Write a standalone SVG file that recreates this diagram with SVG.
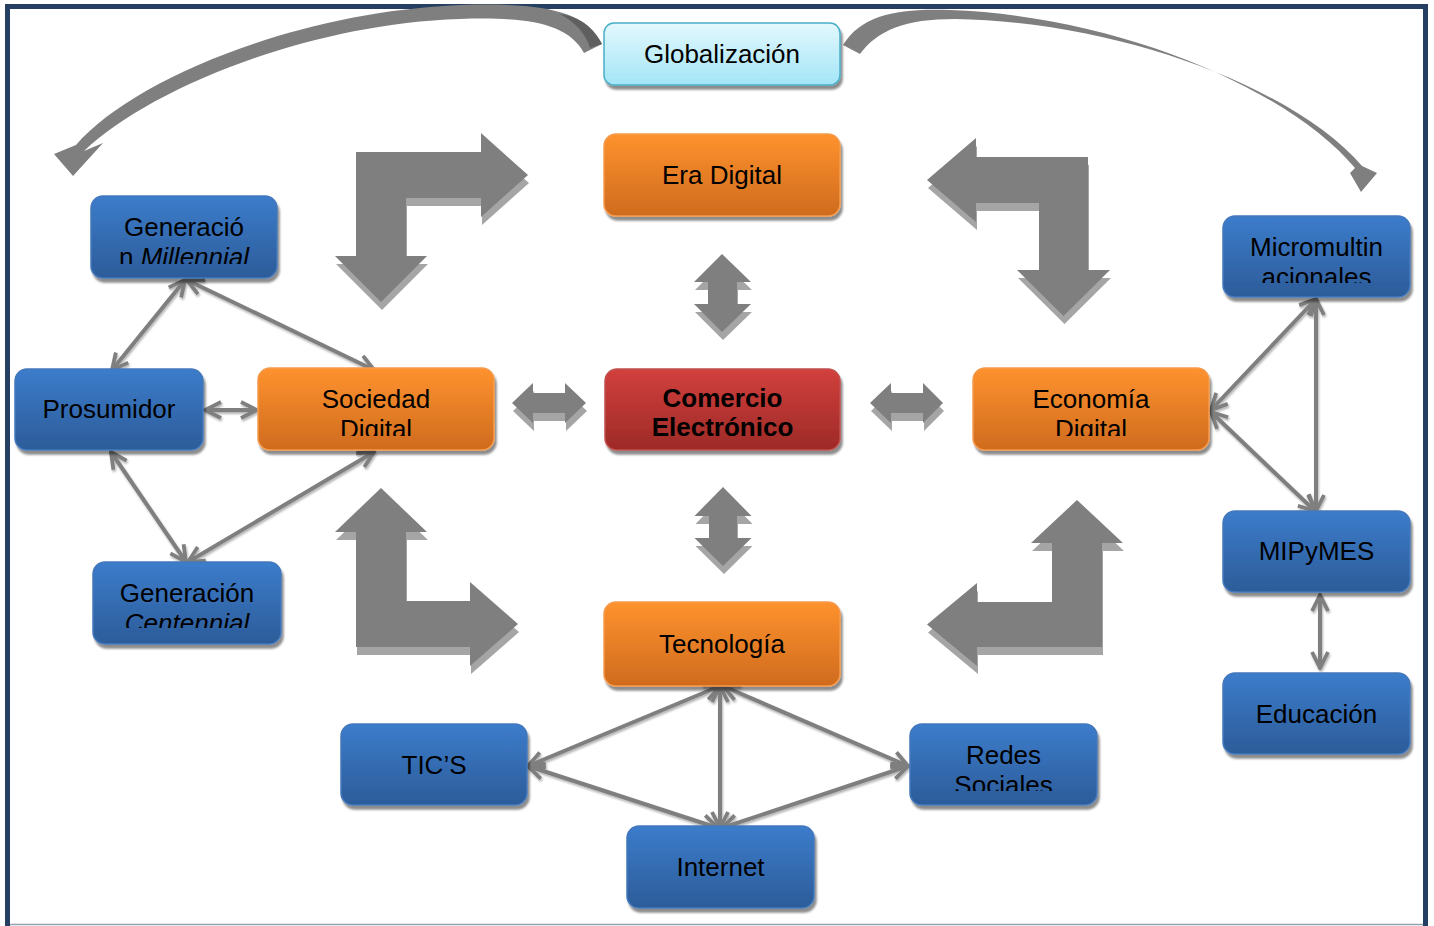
<svg xmlns="http://www.w3.org/2000/svg" width="1434" height="926" viewBox="0 0 1434 926">
<defs>
<linearGradient id="gBlue" x1="0" y1="0" x2="0" y2="1"><stop offset="0" stop-color="#3c7ccb"/><stop offset="1" stop-color="#2c5c99"/></linearGradient>
<linearGradient id="gOrange" x1="0" y1="0" x2="0" y2="1"><stop offset="0" stop-color="#fe922e"/><stop offset="1" stop-color="#cf6b1e"/></linearGradient>
<linearGradient id="gRed" x1="0" y1="0" x2="0" y2="1"><stop offset="0" stop-color="#d2403d"/><stop offset="1" stop-color="#9d2a27"/></linearGradient>
<linearGradient id="gCyan" x1="0" y1="0" x2="0" y2="1"><stop offset="0" stop-color="#e3f8fd"/><stop offset="1" stop-color="#a3e5f7"/></linearGradient>
<filter id="sh" x="-10%" y="-10%" width="130%" height="140%"><feDropShadow dx="2" dy="4" stdDeviation="1.2" flood-color="#000" flood-opacity="0.45"/></filter>
<filter id="lsh" x="-10%" y="-10%" width="130%" height="130%"><feDropShadow dx="1" dy="2" stdDeviation="0.8" flood-color="#000" flood-opacity="0.3"/></filter>
<marker id="oa" viewBox="0 0 22 22" refX="20" refY="11" markerWidth="22" markerHeight="22" markerUnits="userSpaceOnUse" orient="auto-start-reverse">
<path d="M4,3 L20,11 L4,19" fill="none" stroke="#7f7f7f" stroke-width="3.8"/>
</marker>
<clipPath id="cMil"><rect x="91" y="196" width="186" height="68"/></clipPath>
<clipPath id="cCen"><rect x="93" y="562" width="188" height="66"/></clipPath>
<clipPath id="cSoc"><rect x="258" y="368" width="236" height="68"/></clipPath>
<clipPath id="cEco"><rect x="973" y="368" width="236" height="68"/></clipPath>
<clipPath id="cMic"><rect x="1223" y="216" width="187" height="67"/></clipPath>
<clipPath id="cRed"><rect x="910" y="724" width="187" height="67"/></clipPath>
</defs>
<style>
.t{font-family:"Liberation Sans",Arial,sans-serif;font-size:26px;fill:#000;text-anchor:middle}
.b{font-weight:bold}
.i{font-style:italic}
.blue{fill:url(#gBlue);stroke:#4478bb;stroke-width:1.5;filter:url(#sh)}
.orange{fill:url(#gOrange);stroke:#f59a4c;stroke-width:1.5;filter:url(#sh)}
.red{fill:url(#gRed);stroke:#c0504d;stroke-width:1.5;filter:url(#sh)}
.cyan{fill:url(#gCyan);stroke:#4aaec8;stroke-width:1.5;filter:url(#sh)}
.big{fill:#7f7f7f}
.bigs{fill:#a5a5a5}
.con{fill:none;stroke:#7f7f7f;stroke-width:4;marker-start:url(#oa);marker-end:url(#oa)}
</style>
<rect width="1434" height="926" fill="#fff"/>
<!-- frame -->
<path d="M7.5,926 V6.5 H1425.5 V926" fill="none" stroke="#253f62" stroke-width="5"/>
<line x1="10" y1="924.5" x2="1423" y2="924.5" stroke="#95a3b0" stroke-width="1.5"/>

<!-- big arrows -->
<g id="bigArrows">
<g transform="translate(1,8)">
<polygon class="bigs" points="356,152 481,152 481,133 528,175 481,217 481,198 406,198 406,256 427,256 381,302 335,256 356,256"/>
<polygon class="bigs" points="1088,157 976,157 976,138 927,180 976,222 976,203 1039,203 1039,270 1017,270 1063.5,316 1110,270 1088,270"/>
<polygon class="bigs" points="381,488 427,532 406,532 406,601 470,601 470,582 518,624 470,666 470,647 356,647 356,532 335,532"/>
<polygon class="bigs" points="1077,500 1123,543 1102,543 1102,647 977,647 977,666 927,624.5 977,583 977,602 1052,602 1052,543 1031,543"/>
<polygon class="bigs" points="722,254 751,282 737,282 737,304 751,304 722,332 694,304 708,304 708,282 694,282"/>
<polygon class="bigs" points="723,487 751.5,516 737,516 737,538 751.5,538 723,566 694.5,538 709,538 709,516 694.5,516"/>
<polygon class="bigs" points="512,403 533,383 533,393 565,393 565,383 586,403 565,423 565,413 533,413 533,423"/>
<polygon class="bigs" points="870,403 891,383 891,393 923,393 923,383 943,403 923,423 923,413 891,413 891,423"/>
</g>
<polygon class="big" points="356,152 481,152 481,133 528,175 481,217 481,198 406,198 406,256 427,256 381,302 335,256 356,256"/>
<polygon class="big" points="1088,157 976,157 976,138 927,180 976,222 976,203 1039,203 1039,270 1017,270 1063.5,316 1110,270 1088,270"/>
<polygon class="big" points="381,488 427,532 406,532 406,601 470,601 470,582 518,624 470,666 470,647 356,647 356,532 335,532"/>
<polygon class="big" points="1077,500 1123,543 1102,543 1102,647 977,647 977,666 927,624.5 977,583 977,602 1052,602 1052,543 1031,543"/>
<polygon class="big" points="722,254 751,282 737,282 737,304 751,304 722,332 694,304 708,304 708,282 694,282"/>
<polygon class="big" points="723,487 751.5,516 737,516 737,538 751.5,538 723,566 694.5,538 709,538 709,516 694.5,516"/>
<polygon class="big" points="512,403 533,383 533,393 565,393 565,383 586,403 565,423 565,413 533,413 533,423"/>
<polygon class="big" points="870,403 891,383 891,393 923,393 923,383 943,403 923,423 923,413 891,413 891,423"/>
</g>

<!-- curved arrows from Globalización -->
<g id="curves">
<path class="big" d="M602,44 C585,8 535,3 460,5 C295,12 132,80 76,145 L54,154 L73,176 L103,143 L84,151 C148,90 305,24 460,19 C525,17 567,22 584,53 Z"/>
<path d="M602,44 C590,22 574,16 560,14 C575,22 586,34 590,48 Z" fill="#5f5f5f"/>
<path class="big" d="M843,45 C862,14 900,8 950,10 C1120,16 1290,90 1355,168 L1350,173 L1361,192 L1377,173 L1362,166 C1295,88 1120,22 955,19 C905,19 878,30 860,54 Z"/>
</g>

<!-- connectors -->
<g id="connectors" filter="url(#lsh)">
<line class="con" x1="185" y1="280" x2="112" y2="370"/>
<line class="con" x1="187" y1="280" x2="374" y2="370"/>
<line class="con" x1="205" y1="410" x2="257" y2="410"/>
<line class="con" x1="111" y1="452" x2="186" y2="562"/>
<line class="con" x1="374" y1="452" x2="188" y2="562"/>
<line class="con" x1="1211" y1="410" x2="1316" y2="299"/>
<line class="con" x1="1211" y1="412" x2="1315" y2="511"/>
<line class="con" x1="1316" y1="299" x2="1316" y2="511"/>
<line class="con" x1="1320" y1="595" x2="1320" y2="668"/>
<line class="con" x1="720" y1="686" x2="528" y2="766"/>
<line class="con" x1="720" y1="686" x2="720" y2="828"/>
<line class="con" x1="723" y1="686" x2="908" y2="766"/>
<line class="con" x1="528" y1="766" x2="718" y2="828"/>
<line class="con" x1="908" y1="766" x2="722" y2="828"/>
</g>

<!-- nodes -->
<g id="globalizacion"><rect class="cyan" x="604" y="23" width="236" height="62" rx="10"/><text class="t" x="722" y="63">Globalización</text></g>
<g id="era-digital"><rect class="orange" x="604" y="134" width="236" height="82" rx="12"/><text class="t" x="722" y="184">Era Digital</text></g>
<g id="comercio"><rect class="red" x="605" y="369" width="235" height="81" rx="12"/><text class="t b" x="722.5" y="407">Comercio</text><text class="t b" x="722.5" y="436">Electrónico</text></g>
<g id="tecnologia"><rect class="orange" x="604" y="602" width="236" height="84" rx="12"/><text class="t" x="722" y="653">Tecnología</text></g>
<g id="sociedad"><rect class="orange" x="258" y="368" width="236" height="82" rx="12"/><g clip-path="url(#cSoc)"><text class="t" x="376" y="408">Sociedad</text><text class="t" x="376" y="438">Digital</text></g></g>
<g id="economia"><rect class="orange" x="973" y="368" width="236" height="82" rx="12"/><g clip-path="url(#cEco)"><text class="t" x="1091" y="408">Economía</text><text class="t" x="1091" y="438">Digital</text></g></g>
<g id="millennial"><rect class="blue" x="91" y="196" width="186" height="82" rx="12"/><g clip-path="url(#cMil)"><text class="t" x="184" y="236">Generació</text><text class="t" x="184" y="266">n <tspan class="i">Millennial</tspan></text></g></g>
<g id="prosumidor"><rect class="blue" x="15" y="369" width="188" height="81" rx="12"/><text class="t" x="109" y="418">Prosumidor</text></g>
<g id="centennial"><rect class="blue" x="93" y="562" width="188" height="82" rx="12"/><g clip-path="url(#cCen)"><text class="t" x="187" y="602">Generación</text><text class="t i" x="187" y="632">Centennial</text></g></g>
<g id="micromultinacionales"><rect class="blue" x="1223" y="216" width="187" height="81" rx="12"/><g clip-path="url(#cMic)"><text class="t" x="1316.5" y="256">Micromultin</text><text class="t" x="1316.5" y="286">acionales</text></g></g>
<g id="mipymes"><rect class="blue" x="1223" y="511" width="187" height="81" rx="12"/><text class="t" x="1316.5" y="560">MIPyMES</text></g>
<g id="educacion"><rect class="blue" x="1223" y="673" width="187" height="81" rx="12"/><text class="t" x="1316.5" y="723">Educación</text></g>
<g id="tics"><rect class="blue" x="341" y="724" width="186" height="81" rx="12"/><text class="t" x="434" y="774">TIC’S</text></g>
<g id="redes"><rect class="blue" x="910" y="724" width="187" height="81" rx="12"/><g clip-path="url(#cRed)"><text class="t" x="1003.5" y="764">Redes</text><text class="t" x="1003.5" y="794">Sociales</text></g></g>
<g id="internet"><rect class="blue" x="627" y="826" width="187" height="82" rx="12"/><text class="t" x="720.5" y="876">Internet</text></g>
</svg>
